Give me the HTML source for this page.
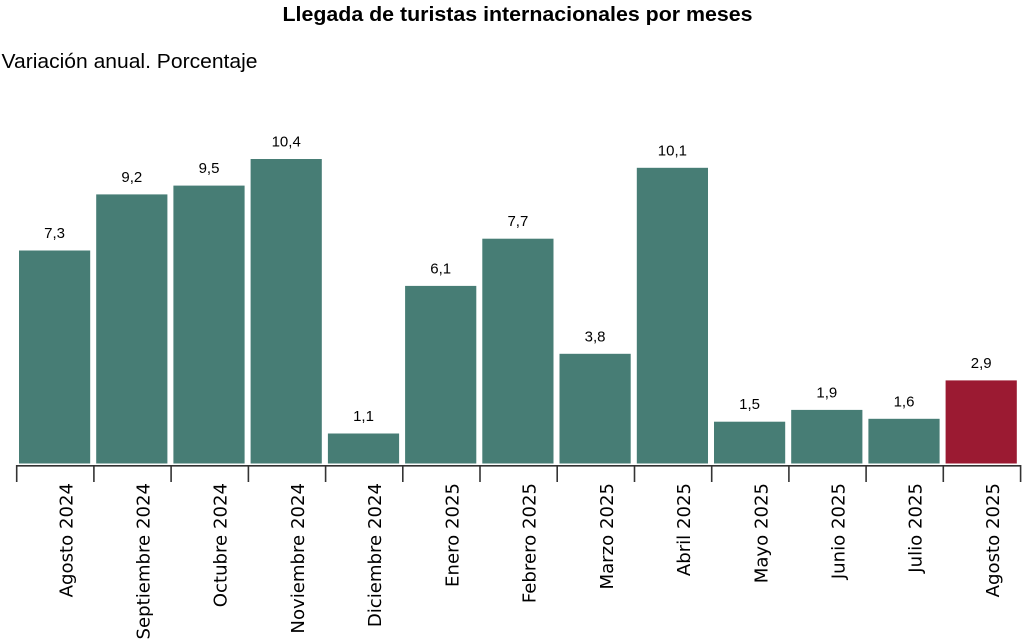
<!DOCTYPE html>
<html>
<head>
<meta charset="utf-8">
<style>
  html, body { margin: 0; padding: 0; background: #ffffff; }
  svg { display: block; }
</style>
</head>
<body>
<svg width="1035" height="644" viewBox="0 0 1035 644" xmlns="http://www.w3.org/2000/svg">
  <rect x="0" y="0" width="1035" height="644" fill="#ffffff"/>
  <text x="517.5" y="21" text-anchor="middle" font-family="Liberation Sans, Arial, sans-serif" font-weight="bold" font-size="20" textLength="470" lengthAdjust="spacingAndGlyphs" fill="#000">Llegada de turistas internacionales por meses</text>
  <text x="1.5" y="68" font-family="Liberation Sans, Arial, sans-serif" font-size="20" textLength="256" lengthAdjust="spacingAndGlyphs" fill="#000">Variación anual. Porcentaje</text>

  <g font-family="Liberation Sans, Arial, sans-serif" font-size="15" fill="#000" text-anchor="middle">
    <rect x="19.0" y="250.5" width="71.2" height="213.0" fill="#477d75"/>
    <text x="54.6" y="238">7,3</text>

    <rect x="96.2" y="194.4" width="71.2" height="269.1" fill="#477d75"/>
    <text x="131.8" y="182">9,2</text>

    <rect x="173.4" y="185.6" width="71.2" height="277.9" fill="#477d75"/>
    <text x="209.0" y="173">9,5</text>

    <rect x="250.6" y="159.0" width="71.2" height="304.5" fill="#477d75"/>
    <text x="286.2" y="146.5">10,4</text>

    <rect x="327.9" y="433.5" width="71.2" height="30.0" fill="#477d75"/>
    <text x="363.5" y="421">1,1</text>

    <rect x="405.1" y="285.9" width="71.2" height="177.6" fill="#477d75"/>
    <text x="440.7" y="273.4">6,1</text>

    <rect x="482.3" y="238.7" width="71.2" height="224.8" fill="#477d75"/>
    <text x="517.9" y="226.2">7,7</text>

    <rect x="559.5" y="353.8" width="71.2" height="109.7" fill="#477d75"/>
    <text x="595.1" y="341.3">3,8</text>

    <rect x="636.8" y="167.8" width="71.2" height="295.7" fill="#477d75"/>
    <text x="672.4" y="155.3">10,1</text>

    <rect x="714.0" y="421.7" width="71.2" height="41.8" fill="#477d75"/>
    <text x="749.6" y="409.2">1,5</text>

    <rect x="791.2" y="409.9" width="71.2" height="53.6" fill="#477d75"/>
    <text x="826.8" y="397.4">1,9</text>

    <rect x="868.4" y="418.8" width="71.2" height="44.7" fill="#477d75"/>
    <text x="904.0" y="406.3">1,6</text>

    <rect x="945.6" y="380.4" width="71.2" height="83.1" fill="#9b1a32"/>
    <text x="981.2" y="367.9">2,9</text>
  </g>

  <line x1="16.7" y1="465.8" x2="1020.7" y2="465.8" stroke="#333" stroke-width="1.6"/>
  <g stroke="#333" stroke-width="1.6">
    <line x1="16.7" y1="465" x2="16.7" y2="482"/>
    <line x1="93.9" y1="465" x2="93.9" y2="482"/>
    <line x1="171.1" y1="465" x2="171.1" y2="482"/>
    <line x1="248.4" y1="465" x2="248.4" y2="482"/>
    <line x1="325.6" y1="465" x2="325.6" y2="482"/>
    <line x1="402.8" y1="465" x2="402.8" y2="482"/>
    <line x1="480.0" y1="465" x2="480.0" y2="482"/>
    <line x1="557.2" y1="465" x2="557.2" y2="482"/>
    <line x1="634.5" y1="465" x2="634.5" y2="482"/>
    <line x1="711.7" y1="465" x2="711.7" y2="482"/>
    <line x1="788.9" y1="465" x2="788.9" y2="482"/>
    <line x1="866.1" y1="465" x2="866.1" y2="482"/>
    <line x1="943.3" y1="465" x2="943.3" y2="482"/>
    <line x1="1020.6" y1="465" x2="1020.6" y2="482"/>
  </g>

  <g font-family="DejaVu Sans, sans-serif" font-size="18.1" fill="#000" text-anchor="end">
    <text transform="translate(72.3,483) rotate(-90)">Agosto 2024</text>
    <text transform="translate(149.5,483) rotate(-90)">Septiembre 2024</text>
    <text transform="translate(226.7,483) rotate(-90)">Octubre 2024</text>
    <text transform="translate(304.0,483) rotate(-90)">Noviembre 2024</text>
    <text transform="translate(381.2,483) rotate(-90)">Diciembre 2024</text>
    <text transform="translate(458.4,483) rotate(-90)">Enero 2025</text>
    <text transform="translate(535.6,483) rotate(-90)">Febrero 2025</text>
    <text transform="translate(612.8,483) rotate(-90)">Marzo 2025</text>
    <text transform="translate(690.1,483) rotate(-90)">Abril 2025</text>
    <text transform="translate(767.3,483) rotate(-90)">Mayo 2025</text>
    <text transform="translate(844.5,483) rotate(-90)">Junio 2025</text>
    <text transform="translate(921.7,483) rotate(-90)">Julio 2025</text>
    <text transform="translate(998.9,483) rotate(-90)">Agosto 2025</text>
  </g>
</svg>
</body>
</html>
